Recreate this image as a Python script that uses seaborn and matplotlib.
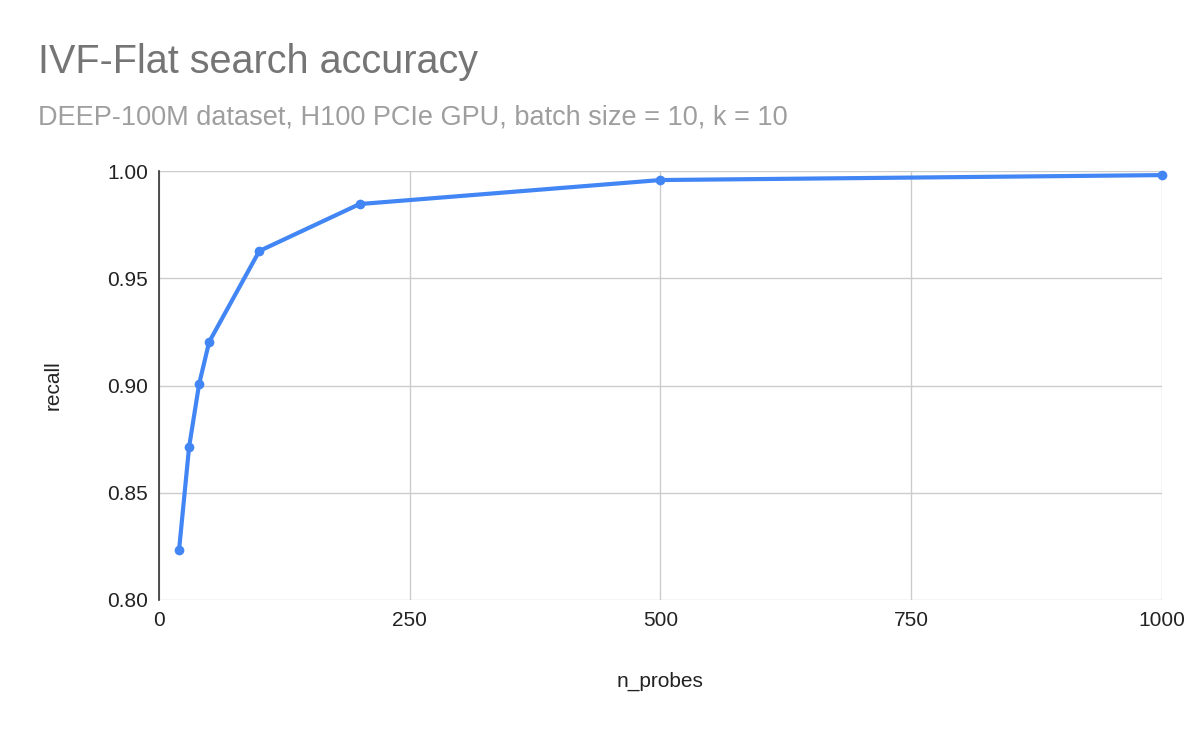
import matplotlib
matplotlib.use("Agg")
import matplotlib.pyplot as plt
import pandas as pd
import seaborn as sns

n_probes = [20, 30, 40, 50, 100, 200, 500, 1000]
recall = [0.8233, 0.8713, 0.9007, 0.9203, 0.9627, 0.9846, 0.9958, 0.9981]
x_ticks = [0, 250, 500, 750, 1000]
y_ticks = [0.80, 0.85, 0.90, 0.95, 1.00]

sns.set_style("white")
plt.rcParams['font.family'] = ['Liberation Sans', 'DejaVu Sans']

data = pd.DataFrame({'n_probes': n_probes, 'recall': recall})

fig = plt.figure(figsize=(12, 7.42), dpi=100)
ax = fig.add_axes([0.1325, 0.1914, 0.8358, 0.5781])

sns.lineplot(data=data, x='n_probes', y='recall', ax=ax, color='#4285f4',
             linewidth=3, marker='o', markersize=7, markeredgewidth=0,
             clip_on=False)

ax.set_xlim(0, 1000)
ax.set_ylim(0.80, 1.00)
ax.set_xticks(x_ticks)
ax.set_xticklabels([str(t) for t in x_ticks])
ax.set_yticks(y_ticks)
ax.set_yticklabels([f'{t:.2f}' for t in y_ticks])
ax.grid(True, color='#cccccc', linewidth=1)
ax.tick_params(axis='both', labelsize=15, colors='#222222', length=0, pad=8)
for side in ['top', 'right', 'bottom']:
    ax.spines[side].set_visible(False)
ax.spines['left'].set_color('#333333')
ax.spines['left'].set_linewidth(1.2)
ax.set_xlabel('n_probes', fontsize=15, color='#222222', labelpad=30)
ax.set_ylabel('recall', fontsize=15, color='#222222', labelpad=32)

fig.text(0.032, 0.916, 'IVF-Flat search accuracy', fontsize=28.5, color='#757575',
         va='center')
fig.text(0.032, 0.842, 'DEEP-100M dataset, H100 PCIe GPU, batch size = 10, k = 10',
         fontsize=19.5, color='#9e9e9e', va='center')

fig.savefig('out.png', dpi=100)
